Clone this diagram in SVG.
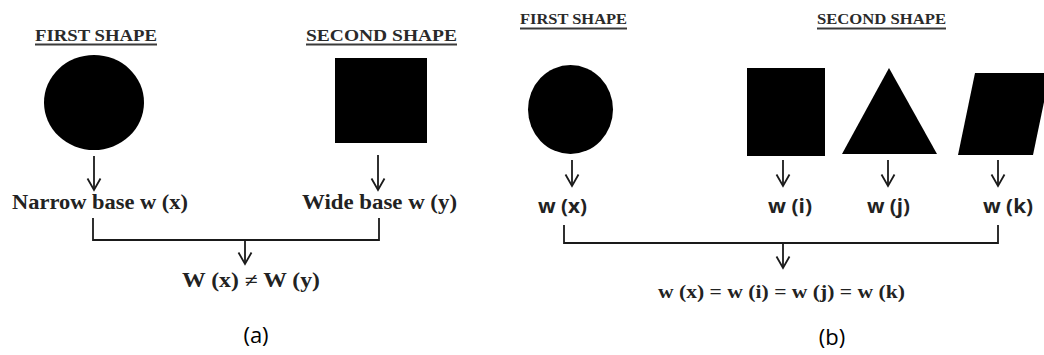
<svg xmlns="http://www.w3.org/2000/svg" width="1044" height="355" viewBox="0 0 1044 355">
<defs>
<marker id="arr" viewBox="0 0 14 16" refX="12.5" refY="8" markerWidth="14" markerHeight="16" markerUnits="userSpaceOnUse" orient="auto">
<path d="M1,1.5 L12.5,8 L1,14.5" fill="none" stroke="#1a1a1a" stroke-width="1.8"/>
</marker>
</defs>
<style>
.hd{font-family:"Liberation Serif",serif;font-weight:bold;fill:#2a2a2a}
.ul{stroke:#3a3a3a;stroke-width:2}
.sh{fill:#000}
.lb{font-family:"Liberation Serif",serif;font-weight:bold;fill:#222;font-size:20px}
.lbs{font-family:"Open Sans","Liberation Sans",sans-serif;font-weight:bold;fill:#222;font-size:19px}
.eq{font-family:"Liberation Serif",serif;font-weight:bold;fill:#222;font-size:18px}
.cap{font-family:"Open Sans","Noto Sans",sans-serif;fill:#000;font-size:22px;text-anchor:middle}
.ln{fill:none;stroke:#1a1a1a;stroke-width:1.8}
.ar{fill:none;stroke:#1a1a1a;stroke-width:1.8;marker-end:url(#arr)}
</style>
<rect width="1044" height="355" fill="#fff"/>

<!-- Panel (a) -->
<g id="a-first-heading">
<text class="hd" x="35" y="41" font-size="17" textLength="122" lengthAdjust="spacingAndGlyphs">FIRST SHAPE</text>
<line class="ul" x1="35" y1="44.5" x2="157" y2="44.5"/>
</g>
<g id="a-second-heading">
<text class="hd" x="306" y="41" font-size="17" textLength="151" lengthAdjust="spacingAndGlyphs">SECOND SHAPE</text>
<line class="ul" x1="306" y1="44.5" x2="457" y2="44.5"/>
</g>
<g id="a-circle"><ellipse class="sh" cx="94" cy="102.5" rx="50" ry="47.5"/></g>
<g id="a-square"><rect class="sh" x="335" y="58" width="92" height="85"/></g>
<g id="a-label-x"><text class="lb" x="12" y="209" textLength="176" lengthAdjust="spacingAndGlyphs">Narrow base w (x)</text></g>
<g id="a-label-y"><text class="lb" x="302" y="209" textLength="155" lengthAdjust="spacingAndGlyphs">Wide base w (y)</text></g>
<g id="a-result"><text class="lb" x="182" y="287" textLength="138" lengthAdjust="spacingAndGlyphs">W (x) ≠ W (y)</text></g>
<g id="a-caption"><text class="cap" x="256" y="343">(a)</text></g>

<!-- Panel (b) -->
<g id="b-first-heading">
<text class="hd" x="520" y="24" font-size="15" textLength="107" lengthAdjust="spacingAndGlyphs">FIRST SHAPE</text>
<line class="ul" x1="520" y1="28.5" x2="627" y2="28.5"/>
</g>
<g id="b-second-heading">
<text class="hd" x="817" y="24" font-size="15" textLength="129" lengthAdjust="spacingAndGlyphs">SECOND SHAPE</text>
<line class="ul" x1="817" y1="28.5" x2="946" y2="28.5"/>
</g>
<g id="b-circle"><ellipse class="sh" cx="570.5" cy="109.5" rx="42.5" ry="44.5"/></g>
<g id="b-rect"><rect class="sh" x="747" y="68" width="78" height="88"/></g>
<g id="b-triangle"><polygon class="sh" points="889,68 937,154 842,154"/></g>
<g id="b-parallelogram"><polygon class="sh" points="975,73 1050,73 1033,155 958,155"/></g>
<g id="b-label-x"><text class="lbs" x="538" y="213" textLength="49" lengthAdjust="spacingAndGlyphs">w (x)</text></g>
<g id="b-label-i"><text class="lbs" x="768" y="213" textLength="44" lengthAdjust="spacingAndGlyphs">w (i)</text></g>
<g id="b-label-j"><text class="lbs" x="867" y="213" textLength="43" lengthAdjust="spacingAndGlyphs">w (j)</text></g>
<g id="b-label-k"><text class="lbs" x="983" y="213" textLength="50" lengthAdjust="spacingAndGlyphs">w (k)</text></g>
<g id="b-result"><text class="eq" x="658" y="298" textLength="247" lengthAdjust="spacingAndGlyphs">w (x) = w (i) = w (j) = w (k)</text></g>
<g id="b-caption"><text class="cap" x="832" y="345">(b)</text></g>

<!-- Connectors -->
<g id="connectors">
<line class="ar" x1="94" y1="156" x2="94" y2="190"/>
<line class="ar" x1="378" y1="155" x2="378" y2="190"/>
<path class="ln" d="M93,218 V240 H379 V218"/>
<line class="ar" x1="245" y1="240" x2="245" y2="264"/>

<line class="ar" x1="572" y1="160" x2="572" y2="186"/>
<line class="ar" x1="783" y1="160" x2="783" y2="186"/>
<line class="ar" x1="888" y1="160" x2="888" y2="186"/>
<line class="ar" x1="998" y1="160" x2="998" y2="186"/>
<path class="ln" d="M564,225 V243 H998 V225"/>
<line class="ar" x1="783" y1="243" x2="783" y2="268"/>
</g>
</svg>
